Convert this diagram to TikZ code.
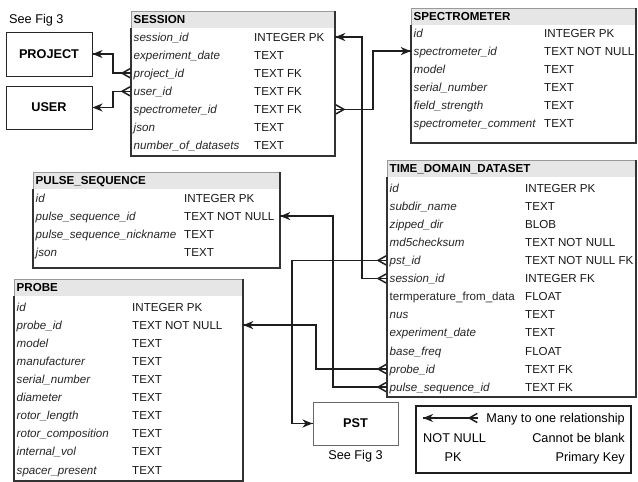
\documentclass[tikz,border=0pt]{standalone}
\usepackage{fontspec}
\setmainfont{Liberation Sans}
\usetikzlibrary{arrows.meta,fit}
\definecolor{hdrgray}{HTML}{E6E6E6}
\definecolor{linedark}{HTML}{1E1E1E}
\newcommand\tfont{\fontsize{11.6}{13}\selectfont}
\newcommand\lfont{\fontsize{12.7}{14}\selectfont}
\newcommand\ertable[9]{%
  \coordinate (#1-nw) at (#2,#3);
  \coordinate (#1-se) at (#4,#5);
  \fill[white] (#1-nw) rectangle (#1-se);
  \fill[hdrgray] (#2,#3) rectangle (#4,#3+17);
  \draw[tblthin] (#1-nw) rectangle (#1-se);
  \draw[tblthick] (#2,#3+17) -- (#2,#5) -- (#4,#5) -- (#4,#3);
  \node[fit=(#1-nw)(#1-se), inner sep=0pt] (#1) {};
  \node[hdr] (#1-title) at (#2+2.5,#3+8.5) {#8};
  \foreach \fd/\ty [count=\i] in {#9} {
    \node[fld] (#1-\i) at (#2+2.5,#7+18.1*\i-18.1) {\fd};
    \node[typ] (#1-t\i) at (#6,#7+18.1*\i-18.1) {\ty};
  }%
}
\begin{document}
\begin{tikzpicture}[x=1pt,y=-1pt,
  crowfoot/.tip={Straight Barb[reversed,length=8pt,width=9pt,line width=1.5pt]},
  oneend/.tip={Stealth[length=10pt,width=8pt,inset=3pt]},
  conn/.style={line width=1.6pt, draw=linedark},
  manyone/.style={conn, arrows=-{oneend}, postaction={draw, arrows={crowfoot}-}},
  tblthin/.style={draw=black!40, line width=0.8pt},
  tblthick/.style={draw=black!80, line width=1.6pt},
  hdr/.style={font=\tfont\bfseries, anchor=west, inner sep=0pt, text height=8.3pt, text depth=0pt},
  fld/.style={font=\tfont\itshape, text=black!85, anchor=west, inner sep=0pt, text height=8.3pt, text depth=0pt},
  typ/.style={font=\tfont, text=black!90, anchor=west, inner sep=0pt, text height=8.3pt, text depth=0pt},
  ent/.style={draw=black!85, line width=1pt, fill=white, font=\lfont\bfseries, inner sep=0pt},
  plain/.style={font=\lfont, inner sep=0pt, text height=8.8pt, text depth=0pt},
]
\fill[white] (0,0) rectangle (638,482);
\useasboundingbox (0,0) rectangle (638,482);

% entity boxes
\node[ent, minimum width=86pt, minimum height=44pt] (proj) at (49,54) {PROJECT};
\node[ent, minimum width=86pt, minimum height=43pt] (user) at (49,107.5) {USER};
\node[plain, anchor=west] (seefig1) at (9,19) {See Fig 3};

% tables
\ertable{sess}{131}{11}{335}{156}{254}{37}{SESSION}{session\_id/INTEGER PK, experiment\_date/TEXT, project\_id/TEXT FK, user\_id/TEXT FK, spectrometer\_id/TEXT FK, json/TEXT, number\_of\_datasets/TEXT}
\ertable{spec}{411}{8}{636}{143}{544}{33}{SPECTROMETER}{id/INTEGER PK, spectrometer\_id/TEXT NOT NULL, model/TEXT, serial\_number/TEXT, field\_strength/TEXT, spectrometer\_comment/TEXT}
\ertable{puls}{33}{172}{280}{268}{184}{198}{PULSE\_SEQUENCE}{id/INTEGER PK, pulse\_sequence\_id/TEXT NOT NULL, pulse\_sequence\_nickname/TEXT, json/TEXT}
\ertable{tdd}{387}{160}{636}{397}{525}{188}{TIME\_DOMAIN\_DATASET}{id/INTEGER PK, subdir\_name/TEXT, zipped\_dir/BLOB, md5checksum/TEXT NOT NULL, pst\_id/TEXT NOT NULL FK, session\_id/INTEGER FK, {\upshape termperature\_from\_data}/FLOAT, nus/TEXT, experiment\_date/TEXT, base\_freq/FLOAT, probe\_id/TEXT FK, pulse\_sequence\_id/TEXT FK}
\ertable{probe}{14}{279}{243}{481}{132}{307}{PROBE}{id/INTEGER PK, probe\_id/TEXT NOT NULL, model/TEXT, manufacturer/TEXT, serial\_number/TEXT, diameter/TEXT, rotor\_length/TEXT, rotor\_composition/TEXT, internal\_vol/TEXT, spacer\_present/TEXT}

% PST
\node[draw=black!60, line width=0.9pt, fill=white, font=\lfont\bfseries, minimum width=85pt, minimum height=43pt, inner sep=0pt] (pst) at (355.5,423.5) {PST};
\node[plain] (seefig2) at (355.5,455) {See Fig 3};

% connectors
\draw[manyone] (sess.west |- sess-3) -- ++(-18,0) |- (proj.east);
\draw[manyone] (sess.west |- sess-4) -- ++(-18,0) |- (user.east);
\draw[manyone] (sess.east |- sess-5) -- ++(38,0) |- (spec.west |- spec-2);
\draw[manyone] (tdd.west |- tdd-6) -- ++(-25,0) |- (sess.east |- sess-1);
\draw[manyone] (tdd.west |- tdd-5) -- ++(-95,0) |- (pst.west);
\draw[manyone] (tdd.west |- tdd-11) -- ++(-71,0) |- (probe.east |- probe-2);
\draw[manyone] (tdd.west |- tdd-12) -- ++(-54,0) |- (puls.east |- puls-2);

% legend
\node[draw=linedark, line width=1.6pt, minimum width=215pt, minimum height=67pt, inner sep=0pt] (leg) at (523.5,439.5) {};
\coordinate (lgA) at (423,418);
\coordinate (lgB) at (478,418);
\draw[manyone] (lgB) -- (lgA);
\node[plain, anchor=east] (lg1) at (625,418) {Many to one relationship};
\node[plain, anchor=west] (lg2) at (423,438) {NOT NULL};
\node[plain, anchor=east] (lg3) at (625,438) {Cannot be blank};
\node[plain] (lg4) at (453,457) {PK};
\node[plain, anchor=east] (lg5) at (625,457) {Primary Key};
\end{tikzpicture}
\end{document}
